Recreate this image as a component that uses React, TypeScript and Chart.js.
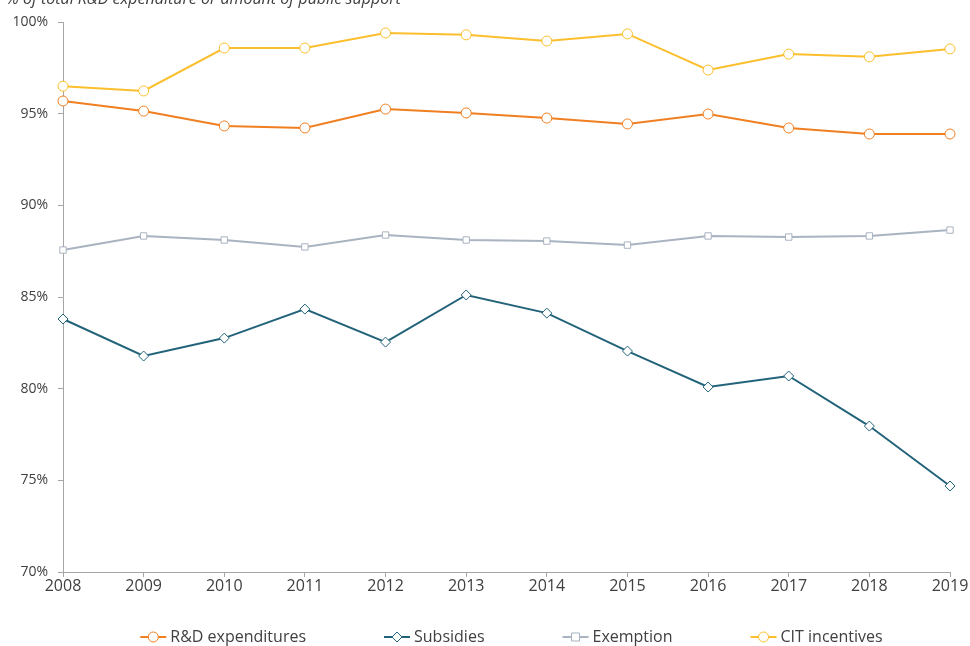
import React, { useEffect, useRef } from "react";
import { Chart, registerables } from "chart.js";

Chart.register(...registerables);

const years = ["2008", "2009", "2010", "2011", "2012", "2013", "2014", "2015", "2016", "2017", "2018", "2019"];
const rdExpenditures = [95.69, 95.14, 94.33, 94.22, 95.25, 95.04, 94.76, 94.44, 94.98, 94.22, 93.89, 93.89];
const subsidies = [83.8, 81.78, 82.76, 84.34, 82.54, 85.11, 84.12, 82.05, 80.09, 80.69, 77.96, 74.69];
const exemption = [87.56, 88.33, 88.11, 87.73, 88.38, 88.11, 88.05, 87.83, 88.33, 88.27, 88.33, 88.65];
const citIncentives = [96.5, 96.24, 98.58, 98.58, 99.4, 99.3, 98.96, 99.35, 97.38, 98.25, 98.1, 98.53];
const yTicks = [70, 75, 80, 85, 90, 95, 100];
const titleText = "% of total R&D expenditure or amount of public support";

const FONT = "'Open Sans', sans-serif";
const TEXT = "#404040";
const AXIS = "#a6a6a6";

const series = [
  { label: "R&D expenditures", data: rdExpenditures, color: "#f07f22", style: "circle", radius: 5 },
  { label: "Subsidies", data: subsidies, color: "#22637a", style: "rectRot", radius: 5 },
  { label: "Exemption", data: exemption, color: "#a9b3c1", style: "rect", radius: 4.5 },
  { label: "CIT incentives", data: citIncentives, color: "#fbbf2e", style: "circle", radius: 5 },
];

const overlayPlugin = {
  id: "overlay",
  afterDraw(chart: any) {
    const ctx = chart.ctx;
    ctx.save();
    // title (cut off at top)
    ctx.font = `italic 16px ${FONT}`;
    ctx.fillStyle = TEXT;
    ctx.textBaseline = "alphabetic";
    ctx.textAlign = "left";
    ctx.fillText(titleText, 6, 4);

    // legend
    ctx.font = `16px ${FONT}`;
    const lineW = 26;
    const gapText = 4;
    const gapItem = 78;
    const widths = series.map((s) => lineW + gapText + ctx.measureText(s.label).width);
    const total = widths.reduce((a, b) => a + b, 0) + gapItem * (series.length - 1);
    let x = 511.5 - total / 2;
    const y = 637;
    series.forEach((s, i) => {
      ctx.strokeStyle = s.color;
      ctx.lineWidth = 2;
      ctx.beginPath();
      ctx.moveTo(x, y);
      ctx.lineTo(x + lineW, y);
      ctx.stroke();
      ctx.fillStyle = "#ffffff";
      ctx.lineWidth = 1;
      ctx.beginPath();
      const cx = x + lineW / 2;
      if (s.style === "circle") {
        ctx.arc(cx, y, 5, 0, Math.PI * 2);
      } else if (s.style === "rect") {
        ctx.rect(cx - 4, y - 4, 8, 8);
      } else {
        ctx.moveTo(cx, y - 5);
        ctx.lineTo(cx + 5, y);
        ctx.lineTo(cx, y + 5);
        ctx.lineTo(cx - 5, y);
        ctx.closePath();
      }
      ctx.fill();
      ctx.stroke();
      ctx.fillStyle = TEXT;
      ctx.textBaseline = "middle";
      ctx.fillText(s.label, x + lineW + gapText, y);
      x += widths[i] + gapItem;
    });
    ctx.restore();
  },
};

export default function App() {
  const ref = useRef<HTMLCanvasElement>(null);
  useEffect(() => {
    if (!ref.current) return;
    const chart = new Chart(ref.current, {
      type: "line",
      data: {
        labels: years,
        datasets: series.map((s) => ({
          label: s.label,
          data: s.data,
          borderColor: s.color,
          backgroundColor: "#ffffff",
          borderWidth: 2,
          pointStyle: s.style as any,
          pointRadius: s.radius,
          pointBorderWidth: 1,
          pointBorderColor: s.color,
          pointBackgroundColor: "#ffffff",
          tension: 0,
        })),
      },
      options: {
        animation: false,
        responsive: false,
        maintainAspectRatio: false,
        layout: { padding: { left: 0, right: 20, top: 22, bottom: 0 } },
        plugins: { legend: { display: false }, tooltip: { enabled: false }, title: { display: false } },
        scales: {
          x: {
            type: "category",
            offset: false,
            grid: { display: true, drawOnChartArea: false, drawTicks: true, tickLength: 5, color: AXIS },
            border: { display: true, color: AXIS, width: 1 },
            ticks: { color: TEXT, font: { family: FONT, size: 16 }, padding: 0, maxRotation: 0, autoSkip: false },
            afterFit: (s: any) => { s.height = 74; },
          },
          y: {
            min: 70,
            max: 100,
            afterBuildTicks: (s: any) => { s.ticks = yTicks.map((v) => ({ value: v })); },
            grid: { display: true, drawOnChartArea: false, drawTicks: true, tickLength: 5, color: AXIS },
            border: { display: true, color: AXIS, width: 1 },
            ticks: {
              color: TEXT,
              font: { family: FONT, size: 14 },
              padding: 10,
              callback: (v: any) => `${v}%`,
            },
            afterFit: (s: any) => { s.width = 63; },
          },
        },
      },
      plugins: [overlayPlugin],
    });
    return () => chart.destroy();
  }, []);
  return (
    <div style={{ position: "fixed", top: 0, left: 0, width: 970, height: 646, background: "#fff" }}>
      <canvas ref={ref} width={970} height={646} style={{ width: 970, height: 646, display: "block" }} />
    </div>
  );
}
